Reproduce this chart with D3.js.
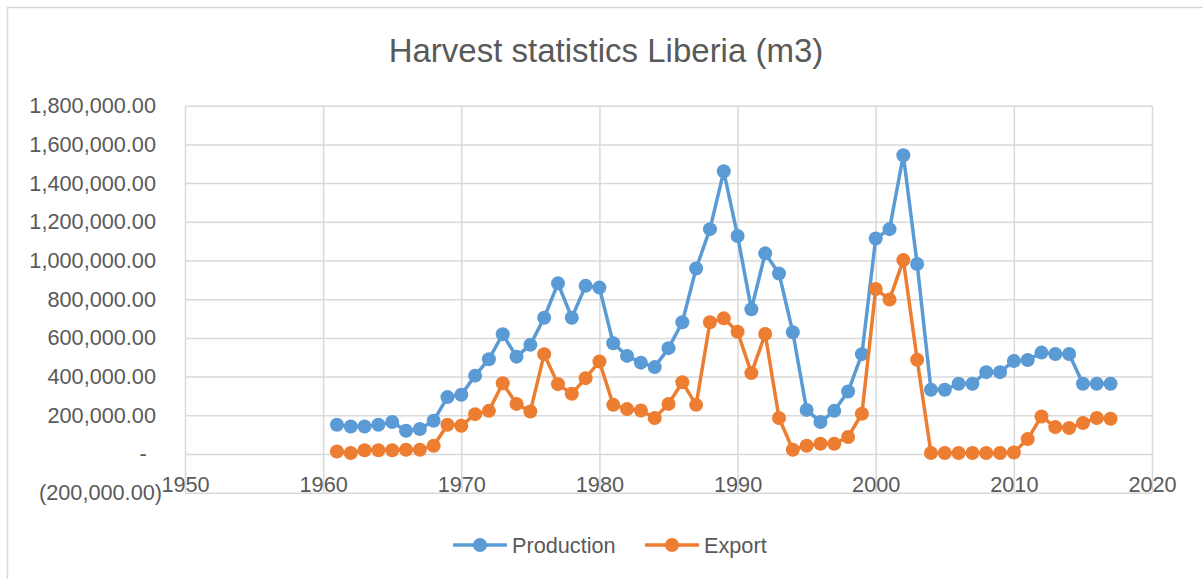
<!DOCTYPE html>
<html>
<head>
<meta charset="utf-8">
<script src="https://cdn.jsdelivr.net/npm/d3@7"></script>
<style>
  body { margin: 0; background: #fff; }
  text { font-family: "Liberation Sans", Arial, sans-serif; fill: #595959; }
</style>
</head>
<body>
<div id="chart"></div>
<script>
// chart values
var years = d3.range(1961, 2018);
var production = [151000, 142000, 142000, 151000, 165000, 120000, 129000, 172000, 294000, 306000,
    405000, 490000, 619000, 503000, 564000, 704000, 882000, 704000, 869000, 860000,
    572000, 507000, 472000, 449000, 547000, 681000, 959000, 1162000, 1461000, 1127000,
    748000, 1037000, 933000, 629000, 228000, 165000, 223000, 323000, 516000, 1114000,
    1162000, 1544000, 982000, 332000, 332000, 363000, 363000, 423000, 423000, 481000,
    486000, 524000, 517000, 517000, 363000, 363000, 363000];
var exportVals = [13000, 5000, 19000, 19000, 19000, 22000, 22000, 43000, 151000, 146000,
    206000, 223000, 366000, 259000, 220000, 516000, 361000, 311000, 392000, 478000,
    254000, 232000, 225000, 186000, 259000, 371000, 254000, 681000, 701000, 632000,
    418000, 620000, 186000, 22000, 43000, 53000, 53000, 88000, 208000, 853000,
    798000, 1002000, 487000, 5000, 5000, 5000, 5000, 5000, 5000, 8000,
    77000, 194000, 139000, 134000, 160000, 186000, 182000];
var xTicks = [1950, 1960, 1970, 1980, 1990, 2000, 2010, 2020];
var yTicks = [-200000, 0, 200000, 400000, 600000, 800000, 1000000, 1200000, 1400000, 1600000, 1800000];
var seriesNames = ['Production', 'Export'];
var colors = ['#5B9BD5', '#ED7D31'];

var width = 1203,
    height = 579,
    margin = {left: 185, right: 51, top: 105.7, bottom: 86.3},
    plotW = width - margin.left - margin.right,
    plotH = height - margin.top - margin.bottom;

var svg = d3.select('#chart').append('svg')
    .attr('width', width)
    .attr('height', height);

// outer chart frame
svg.append('rect')
    .attr('x', 7.5).attr('y', 7.5)
    .attr('width', width + 20).attr('height', height + 20)
    .attr('fill', 'none')
    .attr('stroke', '#d9d9d9')
    .attr('stroke-width', 1.5);

svg.append('text')
    .attr('x', 606).attr('y', 62)
    .attr('text-anchor', 'middle')
    .style('font-size', '33px')
    .text('Harvest statistics Liberia (m3)');

var xScale = d3.scaleLinear().domain([1950, 2020]).range([0, plotW]),
    yScale = d3.scaleLinear().domain([-200000, 1800000]).range([plotH, 0]);

var num = d3.format(',.2f');
var yFormat = function(d) {
    if (d === 0) return '-';
    if (d < 0) return '(' + num(-d) + ')';
    return num(d);
};

var g = svg.append('g')
    .attr('transform', 'translate(' + margin.left + ',' + margin.top + ')');

var yAxis = g.append('g')
    .attr('class', 'axis')
    .call(d3.axisLeft(yScale).tickValues(yTicks).tickFormat(yFormat)
        .tickSize(-plotW).tickPadding(29));
yAxis.select('.domain').remove();
yAxis.selectAll('line').attr('stroke', '#d9d9d9').attr('stroke-width', 1.5);
yAxis.selectAll('text')
    .style('font-size', '21.7px')
    .attr('x', function(d) { return d === 0 ? -42 : (d < 0 ? -23 : -29); })
    .attr('text-anchor', function(d) { return d === 0 ? 'middle' : 'end'; });

var xAxis = g.append('g')
    .attr('class', 'axis')
    .attr('transform', 'translate(0,' + plotH + ')')
    .call(d3.axisBottom(xScale).tickValues(xTicks).tickFormat(d3.format('d'))
        .tickSize(-plotH));
xAxis.select('.domain').remove();
xAxis.selectAll('line').attr('stroke', '#d9d9d9').attr('stroke-width', 1.5);
xAxis.selectAll('text')
    .style('font-size', '21.7px')
    .attr('y', -16)
    .attr('dy', '0.71em');

var series = [production, exportVals];

var line = d3.line()
    .x(function(d, i) { return xScale(years[i]); })
    .y(function(d) { return yScale(d); });

series.forEach(function(vals, s) {
    g.append('path')
        .datum(vals)
        .attr('fill', 'none')
        .attr('stroke', colors[s])
        .attr('stroke-width', 3.5)
        .attr('stroke-linejoin', 'round')
        .attr('d', line);

    g.selectAll('circle.s' + s)
        .data(vals)
        .enter()
        .append('circle')
        .attr('class', 's' + s)
        .attr('cx', function(d, i) { return xScale(years[i]); })
        .attr('cy', function(d) { return yScale(d); })
        .attr('r', 7)
        .attr('fill', colors[s]);
});

// legend
var legendX = [453, 645];
var legend = svg.selectAll('g.legend')
    .data(seriesNames)
    .enter()
    .append('g')
    .attr('class', 'legend')
    .attr('transform', function(d, i) { return 'translate(' + legendX[i] + ',545)'; });
legend.append('line')
    .attr('x1', 0).attr('x2', 54)
    .attr('stroke', function(d, i) { return colors[i]; })
    .attr('stroke-width', 3.5);
legend.append('circle')
    .attr('cx', 27).attr('r', 7)
    .attr('fill', function(d, i) { return colors[i]; });
legend.append('text')
    .attr('x', 59).attr('dy', '0.35em')
    .style('font-size', '21.7px')
    .text(function(d) { return d; });
</script>
</body>
</html>
